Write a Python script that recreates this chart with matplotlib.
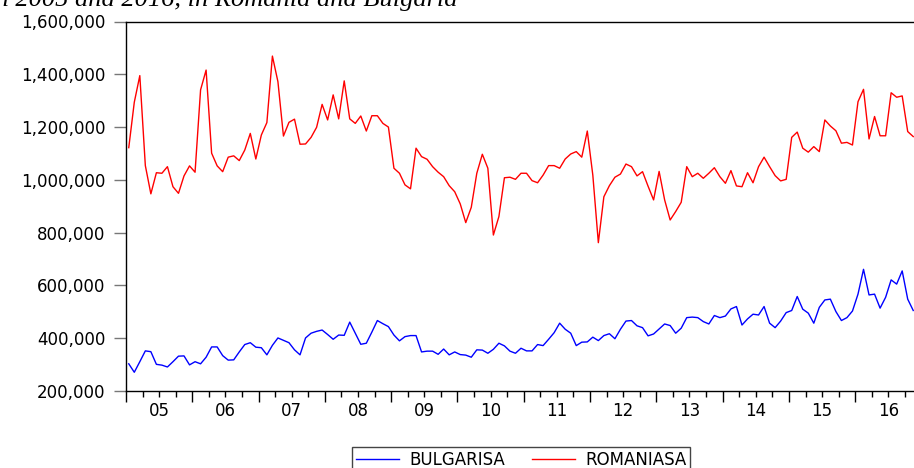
import numpy as np
import matplotlib
matplotlib.use("Agg")
import matplotlib.pyplot as plt
from matplotlib.ticker import FuncFormatter

# monthly values, Jan 2005 - Nov 2016
romaniasa = [
    1122000, 1294000, 1395000, 1054000, 947000, 1027000, 1025000, 1050000, 974000, 949000, 1015000, 1053000,
    1029000, 1341000, 1416000, 1101000, 1053000, 1031000, 1086000, 1091000, 1073000, 1113000, 1176000, 1079000,
    1170000, 1217000, 1469000, 1372000, 1166000, 1218000, 1230000, 1135000, 1136000, 1161000, 1199000, 1286000,
    1227000, 1322000, 1231000, 1375000, 1231000, 1214000, 1242000, 1185000, 1243000, 1243000, 1214000, 1200000,
    1044000, 1025000, 981000, 966000, 1120000, 1088000, 1078000, 1050000, 1029000, 1012000, 978000, 955000,
    909000, 838000, 896000, 1025000, 1097000, 1044000, 791000, 861000, 1008000, 1010000, 1002000, 1025000,
    1025000, 997000, 989000, 1018000, 1054000, 1054000, 1044000, 1079000, 1098000, 1107000, 1086000, 1185000,
    1018000, 762000, 936000, 978000, 1010000, 1022000, 1060000, 1050000, 1015000, 1031000, 976000, 924000,
    1032000, 924000, 848000, 880000, 915000, 1050000, 1012000, 1025000, 1006000, 1025000, 1046000, 1012000,
    987000, 1035000, 977000, 974000, 1027000, 989000, 1050000, 1086000, 1050000, 1016000, 996000, 1002000,
    1161000, 1181000, 1120000, 1105000, 1126000, 1107000, 1227000, 1204000, 1186000, 1139000, 1142000, 1132000,
    1296000, 1343000, 1155000, 1240000, 1167000, 1167000, 1330000, 1313000, 1318000, 1183000, 1164000,
]
bulgarisa = [
    303000, 271000, 311000, 352000, 349000, 301000, 298000, 291000, 311000, 332000, 333000, 299000,
    311000, 303000, 328000, 367000, 367000, 334000, 317000, 318000, 348000, 376000, 383000, 366000,
    364000, 337000, 373000, 401000, 392000, 383000, 356000, 337000, 401000, 419000, 426000, 431000,
    414000, 396000, 412000, 411000, 461000, 419000, 377000, 381000, 423000, 467000, 455000, 444000,
    412000, 390000, 406000, 410000, 410000, 348000, 351000, 351000, 339000, 359000, 337000, 348000,
    338000, 336000, 328000, 356000, 355000, 343000, 358000, 381000, 371000, 351000, 343000, 362000,
    352000, 352000, 376000, 372000, 396000, 421000, 457000, 434000, 419000, 372000, 385000, 386000,
    404000, 391000, 410000, 417000, 398000, 434000, 465000, 467000, 447000, 440000, 409000, 416000,
    435000, 454000, 448000, 419000, 438000, 478000, 480000, 478000, 463000, 454000, 486000, 478000,
    484000, 511000, 520000, 450000, 473000, 491000, 488000, 520000, 457000, 440000, 465000, 497000,
    505000, 558000, 510000, 495000, 457000, 517000, 545000, 548000, 501000, 467000, 478000, 503000,
    567000, 661000, 564000, 567000, 514000, 555000, 621000, 605000, 655000, 548000, 505000,
]
year_labels = ["05", "06", "07", "08", "09", "10", "11", "12", "13", "14", "15", "16"]
y_ticks = [200000, 400000, 600000, 800000, 1000000, 1200000, 1400000, 1600000]

plt.rcParams['font.family'] = ['DejaVu Sans']

W, H = 914, 468
fig = plt.figure(figsize=(W / 100, H / 100), dpi=100)
ax = fig.add_axes([126 / W, 77 / H, 790 / W, (391 - 21.5) / H])

x = np.arange(len(romaniasa)) + 0.5
ax.plot(x, bulgarisa, color='#0000ff', lw=1.0, label='BULGARISA')
ax.plot(x, romaniasa, color='#ff0000', lw=1.0, label='ROMANIASA')

ax.set_xlim(0, 143)
ax.set_ylim(200000, 1600000)
ax.set_yticks(y_ticks)
ax.yaxis.set_major_formatter(FuncFormatter(lambda v, p: f"{int(v):,}"))
ax.tick_params(axis='y', direction='out', length=9, width=1, color='#777777',
               labelsize=12, pad=6)

# year boundaries as major ticks, quarters as minor ticks
ax.set_xticks(np.arange(0, 144, 12))
ax.set_xticks(np.arange(0, 144, 3), minor=True)
ax.tick_params(axis='x', which='major', direction='out', length=8, width=1,
               labelbottom=False)
ax.tick_params(axis='x', which='minor', direction='out', length=4.5, width=1)
for k, lab in enumerate(year_labels):
    ax.annotate(lab, xy=(12 * k + 6, 0), xycoords=('data', 'axes fraction'),
                xytext=(0, -20), textcoords='offset pixels',
                ha='center', va='center', fontsize=12)

for side in ['left', 'bottom', 'top']:
    ax.spines[side].set_linewidth(1.0)
    ax.spines[side].set_color('black')
ax.spines['right'].set_visible(False)

fig.text(458 / W, 1 - 6 / H, "between 2005 and 2016, in Romania and Bulgaria",
         ha='right', va='baseline', family='Liberation Serif', style='italic',
         fontsize=19)

leg = fig.legend(loc='upper center', bbox_to_anchor=(521 / W, 1 - 447 / H), ncol=2,
                 fontsize=12, frameon=True, fancybox=False, edgecolor='#444444',
                 framealpha=1, borderaxespad=0, handlelength=2.6, handletextpad=0.6,
                 columnspacing=1.6, borderpad=0.25)
leg.get_frame().set_linewidth(1.0)

fig.savefig("out.png", dpi=100)
